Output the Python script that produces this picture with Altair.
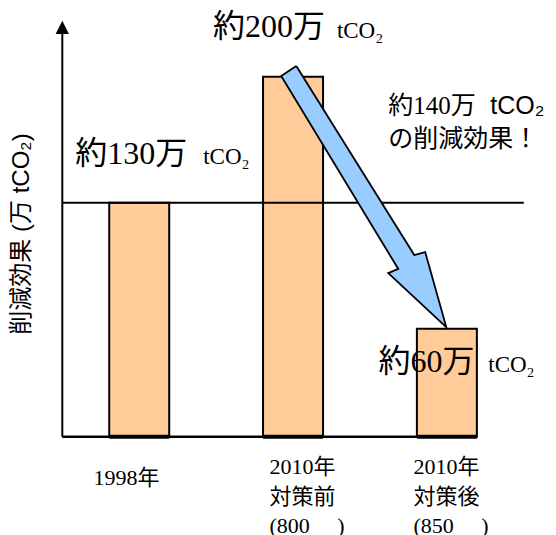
import altair as alt
import pandas as pd

# Emission reductions (万 tCO2)
categories = ["1998年", "2010年対策前", "2010年対策後"]
positions = [1, 2, 3]
values = [130, 200, 60]
tick_labels = ["1998年", "2010年\n対策前\n(800　 )", "2010年\n対策後\n(850　 )"]

# Label anchors, x in category units, y in 万 tCO2
label_x = [0.584, 1.479, 2.556]
label_y = [151.5, 221.8, 36.1]
unit_x = [1.416, 2.285, 3.269]
unit_y = [151.5, 221.5, 35.9]
tick_x = [0.703, 1.847, 2.783]
tick_y = [-26.8, -20.9, -20.9]

# Outline of the reduction arrow (from the 2010 pre-measure bar to the post-measure bar)
arrow_x = [2.021, 2.788, 2.859, 2.996, 2.619, 2.684, 1.923, 2.021]
arrow_y = [205.9, 100.9, 102.6, 60.9, 90.9, 93.2, 200.4, 205.9]

BAR_HALF = 0.195
SERIF = "Liberation Serif, Noto Sans CJK JP"
SANS = "Liberation Sans, Noto Sans CJK JP"
BAR_FILL = "#FFCC99"
ARROW_FILL = "#99CCFF"

xs = alt.Scale(domain=[0.5, 3.5], nice=False, zero=False)
ys = alt.Scale(domain=[0, 230], nice=False, zero=False)


def X(field="x"):
    return alt.X(f"{field}:Q", scale=xs, axis=None)


def Y(field="y"):
    return alt.Y(f"{field}:Q", scale=ys, axis=None)


bars_df = pd.DataFrame({
    "category": categories,
    "pos": positions,
    "value": values,
})
bars_df["x"] = bars_df["pos"] - BAR_HALF
bars_df["x2"] = bars_df["pos"] + BAR_HALF
bars_df["zero"] = 0

bars = alt.Chart(bars_df).mark_rect(
    fill=BAR_FILL, stroke="black", strokeWidth=2
).encode(
    x=X("x"), x2="x2:Q", y=Y("zero"), y2="value:Q"
)

bar_feet = alt.Chart(bars_df).mark_rule(color="black", strokeWidth=4).encode(
    x=X("x"), x2="x2:Q", y=Y("zero")
)

# Axes drawn as rules
h_rules = pd.DataFrame({
    "x": [0.5, 0.5],
    "x2": [3.141, 3.5],
    "y": [0, values[0]],
})
baseline = alt.Chart(h_rules.iloc[[0]]).mark_rule(color="black", strokeWidth=2.5).encode(
    x=X("x"), x2="x2:Q", y=Y("y")
)
ref_line = alt.Chart(h_rules.iloc[[1]]).mark_rule(color="black", strokeWidth=2).encode(
    x=X("x"), x2="x2:Q", y=Y("y")
)

y_axis_df = pd.DataFrame({"x": [0.5], "y": [0], "y2": [226], "tip": [227.4]})
y_axis = alt.Chart(y_axis_df).mark_rule(color="black", strokeWidth=2).encode(
    x=X("x"), y=Y("y"), y2="y2:Q"
)
y_head = alt.Chart(y_axis_df).mark_point(
    shape="M0,-1L1,1L-1,1Z", size=177, filled=True, color="black", opacity=1
).encode(x=X("x"), y=Y("tip"))

arrow_df = pd.DataFrame({
    "x": arrow_x, "y": arrow_y, "order": list(range(len(arrow_x)))
})
arrow = alt.Chart(arrow_df).mark_line(
    fill=ARROW_FILL, stroke="black", strokeWidth=1.8, strokeJoin="miter"
).encode(x=X("x"), y=Y("y"), order="order:Q")

# Value labels
val_df = pd.DataFrame({
    "text": [f"約{v}万" for v in values],
    "x": label_x, "y": label_y,
})
val_text = alt.Chart(val_df).mark_text(
    align="left", baseline="alphabetic", font=SERIF, fontSize=32, color="black"
).encode(x=X("x"), y=Y("y"), text="text:N")

unit_df = pd.DataFrame({"text": ["tCO₂"] * 3, "x": unit_x, "y": unit_y})
unit_text = alt.Chart(unit_df).mark_text(
    align="left", baseline="alphabetic", font=SERIF, fontSize=23, color="black"
).encode(x=X("x"), y=Y("y"), text="text:N")

# Reduction callout
reduction = values[1] - values[2]
callout_df = pd.DataFrame({"text": [f"約{reduction}万"], "x": [2.619], "y": [179.3]})
callout_num = alt.Chart(callout_df).mark_text(
    align="left", baseline="alphabetic", font=SERIF, fontSize=25, color="black"
).encode(x=X("x"), y=Y("y"), text="text:N")
callout_unit_df = pd.DataFrame({"text": ["tCO₂"], "x": [3.282], "y": [179.3]})
callout_unit = alt.Chart(callout_unit_df).mark_text(
    align="left", baseline="alphabetic", font=SANS, fontSize=25, color="black"
).encode(x=X("x"), y=Y("y"), text="text:N")
callout2_df = pd.DataFrame({"text": ["の削減効果！"], "x": [2.619], "y": [160.7]})
callout_line2 = alt.Chart(callout2_df).mark_text(
    align="left", baseline="alphabetic", font=SANS, fontSize=25, color="black"
).encode(x=X("x"), y=Y("y"), text="text:N")

# Category labels under the baseline
tick_df = pd.DataFrame({"text": tick_labels, "x": tick_x, "y": tick_y})
tick_text = alt.Chart(tick_df).mark_text(
    align="left", baseline="alphabetic", font=SERIF, fontSize=22,
    lineBreak="\n", lineHeight=29.5, color="black"
).encode(x=X("x"), y=Y("y"), text="text:N")

# Vertical axis title
title_df = pd.DataFrame({"text": ["削減効果 (万 tCO₂)"], "x": [0.24], "y": [112.6]})
y_title = alt.Chart(title_df).mark_text(
    align="center", baseline="middle", angle=270, font=SANS, fontSize=24, color="black"
).encode(x=X("x"), y=Y("y"), text="text:N")

chart = alt.layer(
    bars, bar_feet, baseline, ref_line, y_axis, y_head, arrow,
    val_text, unit_text, callout_num, callout_unit, callout_line2,
    tick_text, y_title,
).properties(
    width=461.5,
    height=414,
    padding={"left": 62.3, "top": 22.7, "right": 32.2, "bottom": 98.3},
    autosize=alt.AutoSizeParams(type="none"),
    background="white",
).configure_view(strokeWidth=0, stroke="transparent")

chart.save("out.html", embed_options={"renderer": "svg", "actions": False})
